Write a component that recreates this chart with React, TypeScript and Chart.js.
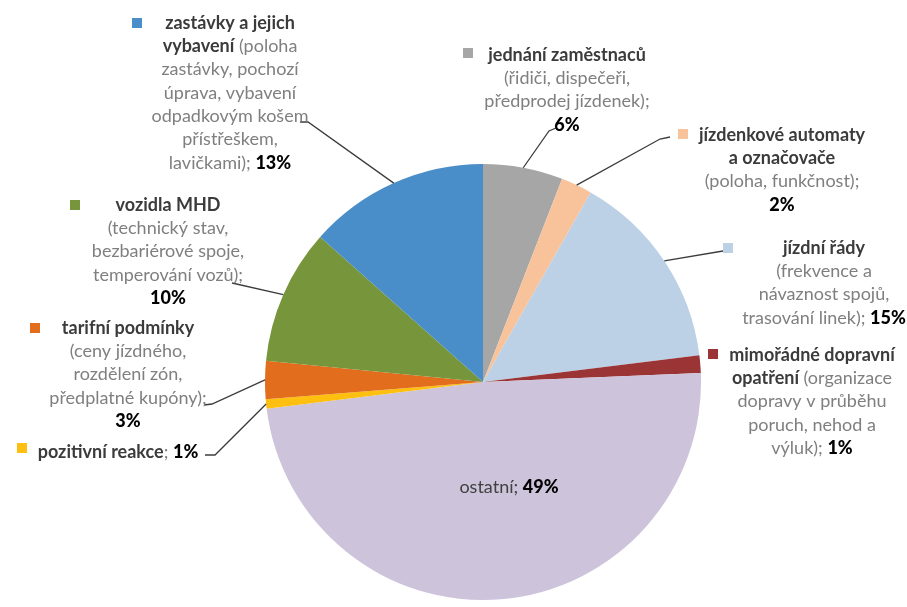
import React, { useEffect, useRef } from "react";
import { Chart, registerables } from "chart.js";

Chart.register(...registerables);

// ---- data ----
const categories = [
  "jednání zaměstnaců",
  "jízdenkové automaty a označovače",
  "jízdní řády",
  "mimořádné dopravní opatření",
  "ostatní",
  "pozitivní reakce",
  "tarifní podmínky",
  "vozidla MHD",
  "zastávky a jejich vybavení",
];
const values = [5.9, 2.3, 14.8, 1.3, 48.6, 0.7, 2.8, 10.0, 13.4];
const colors = [
  "#a6a6a6",
  "#f8c39a",
  "#bcd0e6",
  "#9b3535",
  "#cdc3db",
  "#fdc010",
  "#e26d1c",
  "#77963b",
  "#4a8ec9",
];

// label text lines: [style, text]; style b = bold name, n = description, p = percent
type Seg = [string, string];
const labelLines: Seg[][][] = [
  [[["b", "jednání zaměstnaců"]], [["n", "(řidiči, dispečeři,"]], [["n", "předprodej jízdenek);"]], [["p", ""]]],
  [[["b", "jízdenkové automaty"]], [["b", "a označovače"]], [["n", "(poloha, funkčnost);"]], [["p", ""]]],
  [[["b", "jízdní řády"]], [["n", "(frekvence a"]], [["n", "návaznost spojů,"]], [["n", "trasování linek); "], ["p", ""]]],
  [
    [["b", "mimořádné dopravní"]],
    [["b", "opatření"], ["n", " (organizace"]],
    [["n", "dopravy v průběhu"]],
    [["n", "poruch, nehod a"]],
    [["n", "výluk); "], ["p", ""]],
  ],
  [[["o", "ostatní; "], ["p", ""]]],
  [[["b", "pozitivní reakce"], ["n", "; "], ["p", ""]]],
  [[["b", "tarifní podmínky"]], [["n", "(ceny jízdného,"]], [["n", "rozdělení zón,"]], [["n", "předplatné kupóny);"]], [["p", ""]]],
  [[["b", "vozidla MHD"]], [["n", "(technický stav,"]], [["n", "bezbariérové spoje,"]], [["n", "temperování vozů);"]], [["p", ""]]],
  [
    [["b", "zastávky a jejich"]],
    [["b", "vybavení"], ["n", " (poloha"]],
    [["n", "zastávky, pochozí"]],
    [["n", "úprava, vybavení"]],
    [["n", "odpadkovým košem"]],
    [["n", "přístřeškem,"]],
    [["n", "lavičkami); "], ["p", ""]],
  ],
];

// ---- label layout (text placement) ----
type Layout = { cx: number; y: number; sq: [number, number] | null; leader: [number, number][] };
const layout: Layout[] = [
  { cx: 567, y: 55, sq: [468, 53], leader: [[556, 128], [549, 131]] },
  { cx: 782, y: 135, sq: [683, 134], leader: [[670, 137], [660, 139]] },
  { cx: 824, y: 248, sq: [728, 248], leader: [[723, 251]] },
  { cx: 812, y: 355, sq: [713, 354], leader: [] },
  { cx: 509, y: 487, sq: null, leader: [] },
  { cx: 118, y: 452, sq: [22, 448], leader: [[205, 455], [215, 455]] },
  { cx: 128, y: 328, sq: [35, 328], leader: [[204, 405], [212, 404]] },
  { cx: 168, y: 205, sq: [75, 205], leader: [[232, 283]] },
  { cx: 230, y: 23, sq: [137, 23], leader: [[300, 122], [308, 122]] },
];

const LINE_H = 23.3;
const FONT_FAMILY = "Lato, 'Open Sans', sans-serif";
const FONT_SIZE = 18;

const labelsPlugin = {
  id: "outsideLabels",
  afterDraw(chart: any) {
    const ctx: CanvasRenderingContext2D = chart.ctx;
    const meta = chart.getDatasetMeta(0);
    const data: number[] = chart.data.datasets[0].data;
    const bg: string[] = chart.data.datasets[0].backgroundColor;
    const total = data.reduce((a, b) => a + b, 0);
    ctx.save();
    // leader lines
    ctx.strokeStyle = "#3c3c3c";
    ctx.lineWidth = 1.3;
    meta.data.forEach((arc: any, i: number) => {
      const L = layout[i];
      if (!L || L.leader.length === 0) return;
      const p = arc.getProps(["x", "y", "startAngle", "endAngle", "outerRadius"], true);
      const mid = (p.startAngle + p.endAngle) / 2;
      const ax = p.x + Math.cos(mid) * p.outerRadius;
      const ay = p.y + Math.sin(mid) * p.outerRadius;
      ctx.beginPath();
      ctx.moveTo(L.leader[0][0], L.leader[0][1]);
      for (let k = 1; k < L.leader.length; k++) ctx.lineTo(L.leader[k][0], L.leader[k][1]);
      ctx.lineTo(ax, ay);
      ctx.stroke();
    });
    // text
    ctx.textBaseline = "middle";
    ctx.textAlign = "left";
    const fontFor = (s: string) =>
      s === "p"
        ? `900 ${FONT_SIZE}px ${FONT_FAMILY}`
        : s === "b"
        ? `bold ${FONT_SIZE}px ${FONT_FAMILY}`
        : `${FONT_SIZE}px ${FONT_FAMILY}`;
    const colorFor = (s: string) =>
      s === "b" ? "#3b3b3b" : s === "p" ? "#000000" : s === "o" ? "#404040" : "#7f7f7f";
    labelLines.forEach((lines, i) => {
      const L = layout[i];
      const pct = Math.round((data[i] / total) * 100) + "%";
      if (L.sq) {
        ctx.fillStyle = bg[i];
        ctx.fillRect(L.sq[0] - 5, L.sq[1] - 5, 10, 10);
      }
      lines.forEach((segs, li) => {
        const y = L.y + li * LINE_H;
        const parts = segs.map(([s, t]) => ({ s, t: s === "p" ? pct : t }));
        let w = 0;
        parts.forEach((pt) => {
          ctx.font = fontFor(pt.s);
          w += ctx.measureText(pt.t).width;
        });
        let x = L.cx - w / 2;
        parts.forEach((pt) => {
          ctx.font = fontFor(pt.s);
          ctx.fillStyle = colorFor(pt.s);
          ctx.fillText(pt.t, x, y);
          x += ctx.measureText(pt.t).width;
        });
      });
    });
    ctx.restore();
  },
};

export default function App() {
  const ref = useRef<HTMLCanvasElement | null>(null);
  useEffect(() => {
    if (!ref.current) return;
    const chart = new Chart(ref.current, {
      type: "pie",
      data: {
        labels: categories,
        datasets: [
          {
            data: values,
            backgroundColor: colors,
            borderWidth: 0,
          },
        ],
      },
      options: {
        animation: false,
        responsive: false,
        devicePixelRatio: 1,
        layout: { padding: { left: 265, right: 206, top: 164, bottom: 7 } },
        plugins: {
          legend: { display: false },
          tooltip: { enabled: false },
        },
      },
      plugins: [labelsPlugin],
    });
    return () => chart.destroy();
  }, []);
  return (
    <div style={{ position: "absolute", left: 0, top: 0, width: 907, height: 607, background: "#fff" }}>
      <canvas ref={ref} width={907} height={607} />
    </div>
  );
}
